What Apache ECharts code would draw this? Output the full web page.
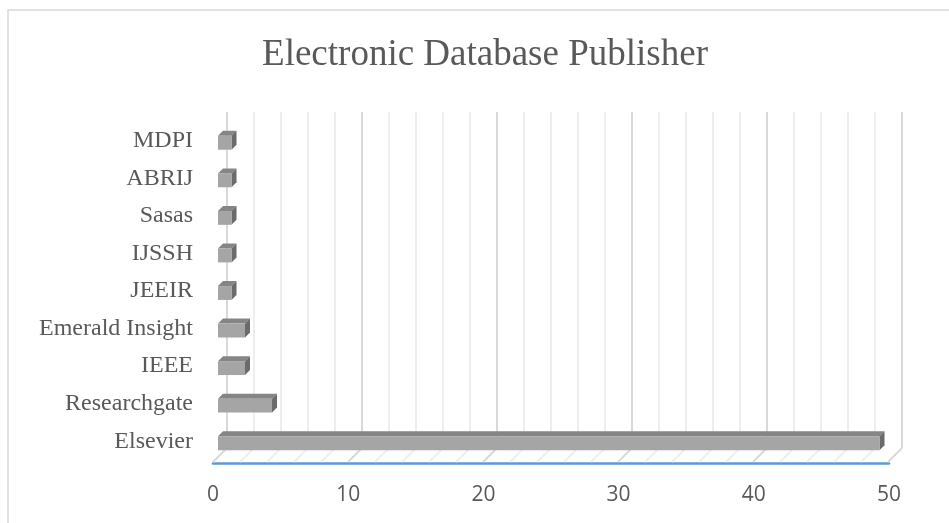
<!DOCTYPE html>
<html>
<head>
<meta charset="utf-8">
<script src="https://cdn.jsdelivr.net/npm/echarts@6/dist/echarts.min.js"></script>
<style>
html,body{margin:0;padding:0;background:#fff;}
#chart{width:949px;height:523px;}
</style>
</head>
<body>
<div id="chart"></div>
<script>
// ---- data ----
const titleText = 'Electronic Database Publisher';
const categories = ['MDPI', 'ABRIJ', 'Sasas', 'IJSSH', 'JEEIR', 'Emerald Insight', 'IEEE', 'Researchgate', 'Elsevier'];
const values = [1, 1, 1, 1, 1, 2, 2, 4, 49];
const axisMin = 0;
const axisMax = 50;
const axisInterval = 10;
const floorTicks = [0, 2, 4, 6, 8, 10, 12, 14, 16, 18, 20, 22, 24, 26, 28, 30, 32, 34, 36, 38, 40, 42, 44, 46, 48, 50];

// ---- chart ----
const chart = echarts.init(document.getElementById('chart'), null, {renderer: 'canvas'});
const textColor = '#595959';

const barSeriesData = values.map((v, i) => [v, i]);

const option = {
  animation: false,
  backgroundColor: '#ffffff',
  title: {
    text: titleText,
    left: 480,
    top: 32,
    textAlign: 'center',
    textStyle: {fontFamily: 'Liberation Serif', fontSize: 37, fontWeight: 'normal', color: textColor}
  },
  graphic: [{
    type: 'rect',
    shape: {x: 8, y: 10, width: 960, height: 540},
    style: {fill: 'none', stroke: '#d9d9d9', lineWidth: 1.5},
    silent: true,
    z: -10
  }],
  grid: [
    {left: 227, right: 47, top: 112, bottom: 75},
    {left: 213, right: 60, top: 112, bottom: 60},
    {left: 218, right: 56, top: 122, bottom: 63}
  ],
  xAxis: [
    {
      gridIndex: 0, type: 'value', min: axisMin, max: axisMax, interval: axisInterval,
      axisLine: {show: false}, axisTick: {show: false}, axisLabel: {show: false},
      splitLine: {show: true, lineStyle: {color: '#d9d9d9', width: 2}},
      minorTick: {show: false, splitNumber: 5},
      minorSplitLine: {show: true, lineStyle: {color: '#eeeeee', width: 2}}
    },
    {
      gridIndex: 1, type: 'value', min: axisMin, max: axisMax, interval: axisInterval,
      axisLine: {show: true, lineStyle: {color: '#5b9bd5', width: 2.5}},
      axisTick: {show: false},
      splitLine: {show: false},
      axisLabel: {color: textColor, fontFamily: 'Open Sans', fontSize: 21, margin: 22}
    },
    {
      gridIndex: 2, type: 'value', min: axisMin, max: axisMax, interval: axisInterval, show: false
    }
  ],
  yAxis: [
    {gridIndex: 0, type: 'value', min: 0, max: 1, show: false},
    {gridIndex: 1, type: 'value', min: 0, max: 1, show: false},
    {
      gridIndex: 2, type: 'category', data: categories, inverse: true,
      axisLine: {show: false}, axisTick: {show: false}, splitLine: {show: false},
      axisLabel: {color: textColor, fontFamily: 'Liberation Serif', fontSize: 24, margin: 25, padding: [6, 0, 0, 0]}
    }
  ],
  series: [
    {
      // floor diagonals from back wall to front axis
      type: 'custom',
      xAxisIndex: 0, yAxisIndex: 0,
      silent: true,
      z: 1,
      data: floorTicks.map(t => [t, 0]),
      renderItem: function (params, api) {
        const v = api.value(0);
        const p = api.coord([v, 0]);
        const major = v % axisInterval === 0;
        return {
          type: 'line',
          shape: {x1: p[0], y1: p[1], x2: p[0] - 14, y2: p[1] + 14},
          style: {stroke: major ? '#d9d9d9' : '#eeeeee', lineWidth: 2}
        };
      }
    },
    {
      // 3D-looking bars
      type: 'custom',
      xAxisIndex: 2, yAxisIndex: 2,
      z: 5,
      data: barSeriesData,
      renderItem: function (params, api) {
        const v = api.value(0);
        const idx = api.value(1);
        const s = api.coord([0, idx]);
        const e = api.coord([v, idx]);
        const band = api.size([0, 1])[1];
        const h = band * 0.37;
        const d = 5;
        const x0 = s[0], x1 = e[0];
        const yTop = s[1] - h / 2 + 2;
        return {
          type: 'group',
          children: [
            {
              type: 'polygon',
              shape: {points: [[x0, yTop], [x0 + d, yTop - d], [x1 + d, yTop - d], [x1, yTop]]},
              style: {fill: '#858585'}
            },
            {
              type: 'polygon',
              shape: {points: [[x1, yTop], [x1 + d, yTop - d], [x1 + d, yTop - d + h], [x1, yTop + h]]},
              style: {fill: '#6b6b6b'}
            },
            {
              type: 'rect',
              shape: {x: x0, y: yTop, width: x1 - x0, height: h},
              style: {fill: '#a5a5a5'}
            }
          ]
        };
      }
    }
  ]
};
chart.setOption(option);
</script>
</body>
</html>
